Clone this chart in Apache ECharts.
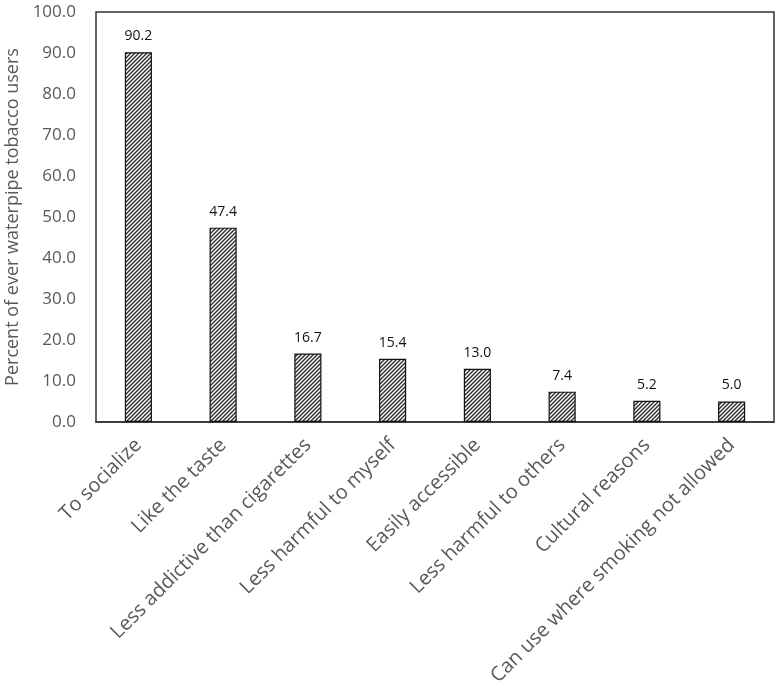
<!DOCTYPE html>
<html>
<head>
<meta charset="utf-8">
<script src="https://cdn.jsdelivr.net/npm/echarts@6/dist/echarts.min.js"></script>
<style>
  html, body { margin: 0; padding: 0; background: #fff; }
  #chart { width: 777px; height: 695px; }
</style>
</head>
<body>
<div id="chart"></div>
<script>
// data
var categories = [
  "To socialize",
  "Like the taste",
  "Less addictive than cigarettes",
  "Less harmful to myself",
  "Easily accessible",
  "Less harmful to others",
  "Cultural reasons",
  "Can use where smoking not allowed"
];
var percents = [90.2, 47.4, 16.7, 15.4, 13.0, 7.4, 5.2, 5.0];
var yName = "Percent of ever waterpipe tobacco users";

// diagonal hatch fill, like the excel pattern
function makeHatch() {
  var c = document.createElement("canvas");
  c.width = 4;
  c.height = 4;
  var ctx = c.getContext("2d");
  ctx.fillStyle = "#ffffff";
  ctx.fillRect(0, 0, 4, 4);
  ctx.strokeStyle = "#2b2b2b";
  ctx.lineWidth = 1.4;
  ctx.beginPath();
  ctx.moveTo(-1, 5); ctx.lineTo(5, -1);
  ctx.moveTo(-1, 1); ctx.lineTo(1, -1);
  ctx.moveTo(3, 5); ctx.lineTo(5, 3);
  ctx.stroke();
  return c;
}

var myChart = echarts.init(document.getElementById("chart"));
var font = "'Open Sans', sans-serif";

var option = {
  animation: false,
  grid: {
    left: 96,
    right: 3,
    top: 12,
    bottom: 273,
    show: true,
    borderColor: "#333333",
    borderWidth: 1.5,
    containLabel: false,
    outerBoundsMode: "none"
  },
  xAxis: {
    type: "category",
    data: categories,
    axisLine: { show: true, lineStyle: { color: "#333333", width: 1.5 } },
    axisTick: { show: false },
    axisLabel: {
      interval: 0,
      rotate: 45,
      margin: 20,
      color: "#595959",
      fontSize: 20,
      fontFamily: font
    }
  },
  yAxis: {
    type: "value",
    min: 0,
    max: 100,
    interval: 10,
    name: yName,
    nameLocation: "middle",
    nameGap: 72,
    nameTextStyle: { color: "#595959", fontSize: 18, fontFamily: font },
    axisLine: { show: false },
    axisTick: { show: false },
    splitLine: { show: false },
    axisLabel: {
      margin: 20,
      color: "#595959",
      fontSize: 17,
      fontFamily: font,
      formatter: function (v) { return v.toFixed(1); }
    }
  },
  series: [
    {
      type: "bar",
      data: percents,
      barWidth: "32%",
      itemStyle: {
        color: { image: makeHatch(), repeat: "repeat" },
        borderColor: "#111111",
        borderWidth: 1.2
      },
      label: {
        show: true,
        position: "top",
        distance: 9,
        color: "#111111",
        fontSize: 14,
        fontFamily: font,
        formatter: function (p) { return p.value.toFixed(1); }
      }
    }
  ]
};

myChart.setOption(option);
</script>
</body>
</html>
